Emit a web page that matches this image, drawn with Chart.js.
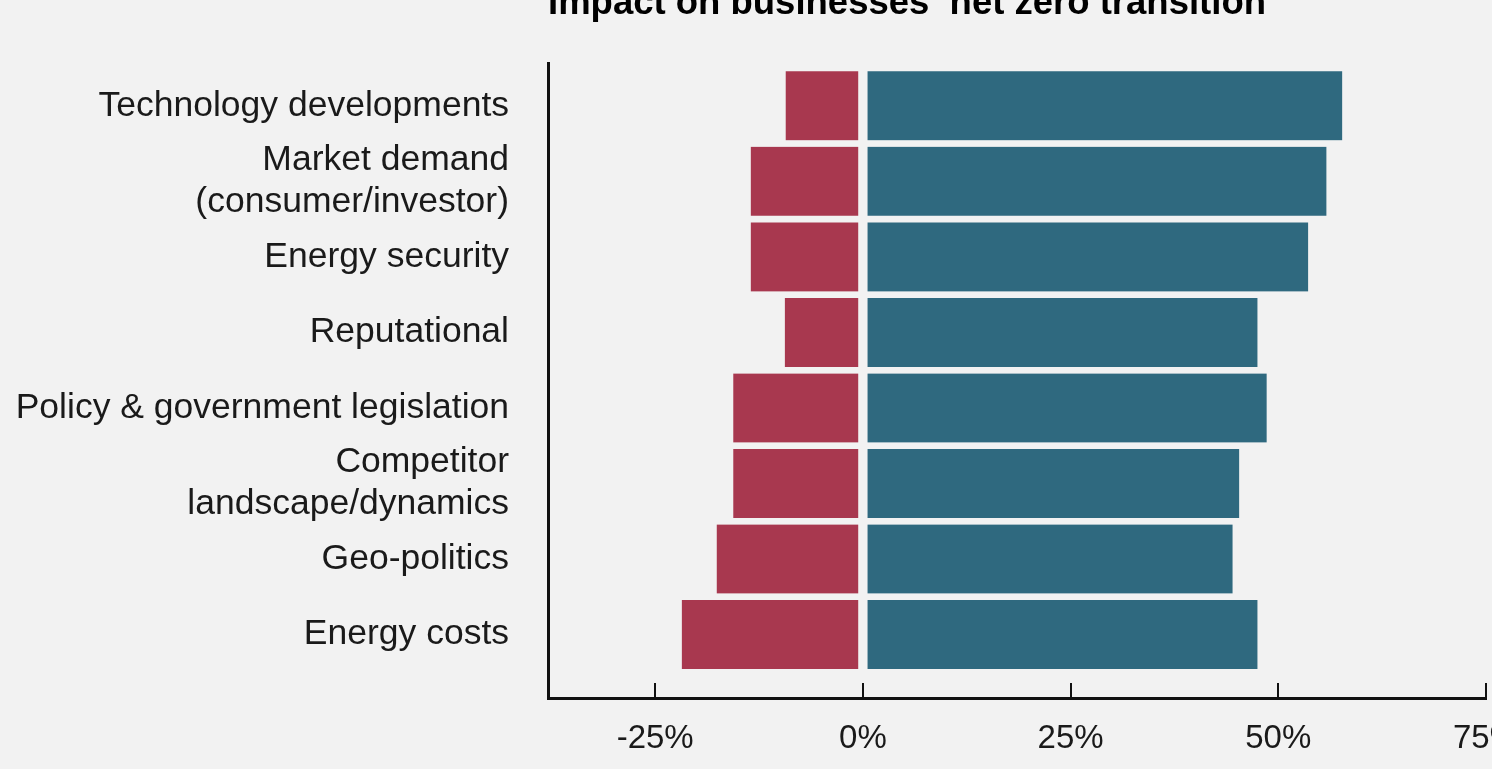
<!DOCTYPE html>
<html>
<head>
<meta charset="utf-8">
<title>Impact on businesses’ net zero transition</title>
<script src="https://cdn.jsdelivr.net/npm/chart.js@4/dist/chart.umd.min.js"></script>
<style>
  html, body { margin: 0; padding: 0; background: #f2f2f2; overflow: hidden; }
  body { width: 1492px; height: 769px; position: relative; }
  #chart { position: absolute; left: 0; top: -30px; }
</style>
</head>
<body>
<canvas id="chart" width="1540" height="799"></canvas>
<script>
// Drivers of the net zero transition, top to bottom
const categories = [
  'Technology developments',
  ['Market demand', '(consumer/investor)'],
  'Energy security',
  'Reputational',
  'Policy & government legislation',
  ['Competitor', 'landscape/dynamics'],
  'Geo-politics',
  'Energy costs'
];

// Share of businesses (%) reporting a negative / positive impact
const negativeImpact = [-9.3, -13.5, -13.5, -9.4, -15.6, -15.6, -17.6, -21.8];
const positiveImpact = [57.7, 55.8, 53.6, 47.5, 48.6, 45.3, 44.5, 47.5];

// Value axis tick labels (%)
const xTickValues = [-25, 0, 25, 50, 75];

const titleText = 'Impact on businesses’ net zero transition';

const BG = '#f2f2f2';
const INK = '#111111';

const toPoints = vals => vals.map((v, i) => ({ x: v, y: i }));

new Chart(document.getElementById('chart'), {
  type: 'bar',
  data: {
    datasets: [
      {
        label: 'Negative impact',
        data: toPoints(negativeImpact),
        backgroundColor: '#a8384f',
        borderColor: BG,
        borderWidth: { left: 0, right: 4, top: 0, bottom: 0 },
        borderSkipped: false,
        barThickness: 69
      },
      {
        label: 'Positive impact',
        data: toPoints(positiveImpact),
        backgroundColor: '#2f697f',
        borderColor: BG,
        borderWidth: { left: 4, right: 0, top: 0, bottom: 0 },
        borderSkipped: false,
        barThickness: 69
      }
    ]
  },
  options: {
    indexAxis: 'y',
    responsive: false,
    animation: false,
    devicePixelRatio: 1,
    layout: { padding: { left: 0, right: 54, top: 0, bottom: 0 } },
    plugins: {
      legend: { display: false },
      tooltip: { enabled: false },
      title: {
        display: true,
        text: titleText,
        align: 'start',
        fullSize: false,
        color: '#000',
        font: { family: '"Liberation Sans", Arial, sans-serif', size: 36.5, weight: 'bold', lineHeight: 1.2 },
        padding: { top: 12.5, bottom: 36.7 }
      }
    },
    scales: {
      x: {
        type: 'linear',
        stacked: true,
        min: -37.9,
        max: 75,
        afterBuildTicks: s => { s.ticks = xTickValues.map(v => ({ value: v })); },
        afterFit: s => { s.height = 71; s.paddingLeft = 0; s.paddingRight = 0; },
        grid: {
          display: true,
          drawOnChartArea: false,
          drawTicks: true,
          tickLength: -15,
          lineWidth: 2,
          color: INK
        },
        border: { display: true, width: 3, color: INK },
        ticks: {
          autoSkip: false,
          maxRotation: 0,
          padding: 36,
          color: '#1a1a1a',
          font: { family: '"Liberation Sans", Arial, sans-serif', size: 33, lineHeight: 1.2 },
          callback: v => v + '%'
        }
      },
      y: {
        type: 'linear',
        stacked: true,
        reverse: true,
        offset: false,
        min: -0.567,
        max: 7.84,
        afterBuildTicks: s => { s.ticks = categories.map((_, i) => ({ value: i })); },
        afterFit: s => { s.width = 548; s.paddingTop = 0; s.paddingBottom = 0; },
        grid: { display: false, drawTicks: false },
        border: { display: true, width: 3, color: INK },
        ticks: {
          autoSkip: false,
          padding: 39,
          color: '#1a1a1a',
          font: { family: '"Liberation Sans", Arial, sans-serif', size: 35.5, lineHeight: 1.18 },
          callback: v => categories[v]
        }
      }
    }
  }
});
</script>
</body>
</html>
